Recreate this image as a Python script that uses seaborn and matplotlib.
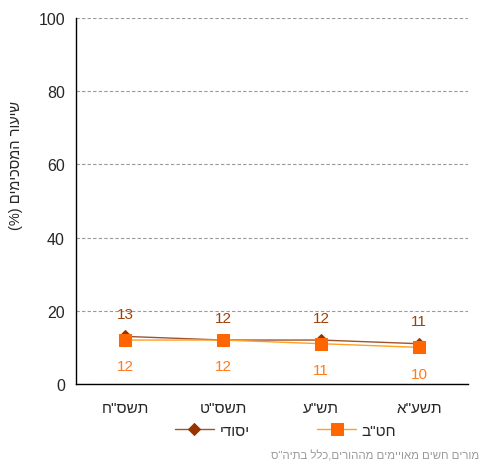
import matplotlib
matplotlib.use("Agg")
import matplotlib.pyplot as plt
import seaborn as sns
import pandas as pd


def rtl(s):
    # matplotlib has no bidi support, so flip Hebrew strings to visual order
    out = s[::-1]
    return out.translate(str.maketrans("()", ")("))


# data
years = ['תשס"ח', 'תשס"ט', 'תש"ע', 'תשע"א']
yesodi = [13, 12, 12, 11]
hativa = [12, 12, 11, 10]
series_names = ['יסודי', 'חט"ב']
footer = 'מורים חשים מאויימים מההורים,כלל בתיה"ס'

df = pd.DataFrame({
    'x': list(range(len(years))) * 2,
    'value': yesodi + hativa,
    'series': [series_names[0]] * len(years) + [series_names[1]] * len(years),
})

sns.set_style("white")
plt.rcParams['font.family'] = ['Liberation Sans', 'DejaVu Sans']

fig = plt.figure(figsize=(4.81, 4.64), dpi=100)
ax = fig.add_axes([0.158, 0.1703, 0.815, 0.789])

brown = '#993300'
orange = '#FF6600'

sns.lineplot(data=df[df['series'] == series_names[0]], x='x', y='value', ax=ax,
             color='#A0522D', lw=1.0, marker='D', markersize=6,
             markerfacecolor=brown, markeredgecolor=brown, label=rtl(series_names[0]))
sns.lineplot(data=df[df['series'] == series_names[1]], x='x', y='value', ax=ax,
             color='#FFA020', lw=1.0, marker='s', markersize=8,
             markerfacecolor=orange, markeredgecolor=orange, label=rtl(series_names[1]))

# value labels
for i, v in enumerate(yesodi):
    ax.annotate(str(v), (i, v), xytext=(0, 16), textcoords='offset points',
                ha='center', va='center', color='#A0400A', fontsize=11)
for i, v in enumerate(hativa):
    ax.annotate(str(v), (i, v), xytext=(0, -19), textcoords='offset points',
                ha='center', va='center', color='#FF7A1A', fontsize=11)

ax.set_xlim(-0.5, 3.5)
ax.set_ylim(0, 100)
ax.set_yticks(range(0, 101, 20))
ax.set_xticks(range(len(years)))
ax.set_xticklabels([rtl(y) for y in years], fontsize=11)
ax.set_xticks([0.5, 1.5, 2.5, 3.5], minor=True)
ax.tick_params(axis='x', which='major', length=0, pad=12)
ax.tick_params(axis='x', which='minor', length=5, width=1, color='black', direction='out')
ax.tick_params(axis='y', length=5, width=1, color='black', direction='out', labelsize=11.5, pad=3)
ax.set_xlabel('')
ax.set_ylabel(rtl('שיעור המסכימים (%)'), fontsize=10.5)
ax.yaxis.set_label_coords(-0.135, 0.60)

ax.yaxis.grid(True, color='#999999', linestyle=(0, (3, 2)), linewidth=0.8)
ax.xaxis.grid(False)
for side in ['top', 'right']:
    ax.spines[side].set_visible(False)
for side in ['left', 'bottom']:
    ax.spines[side].set_color('black')
    ax.spines[side].set_linewidth(1)

ax.legend(loc='center', bbox_to_anchor=(0.534, -0.128), ncol=2, frameon=False,
          fontsize=11, handlelength=2.6, columnspacing=4.4, handletextpad=0.33,
          borderaxespad=0, borderpad=0)

fig.text(479 / 481, 1 - 456 / 464, rtl(footer), fontsize=8.2, color='#999999',
         ha='right', va='center')

fig.savefig('out.png', dpi=100)
